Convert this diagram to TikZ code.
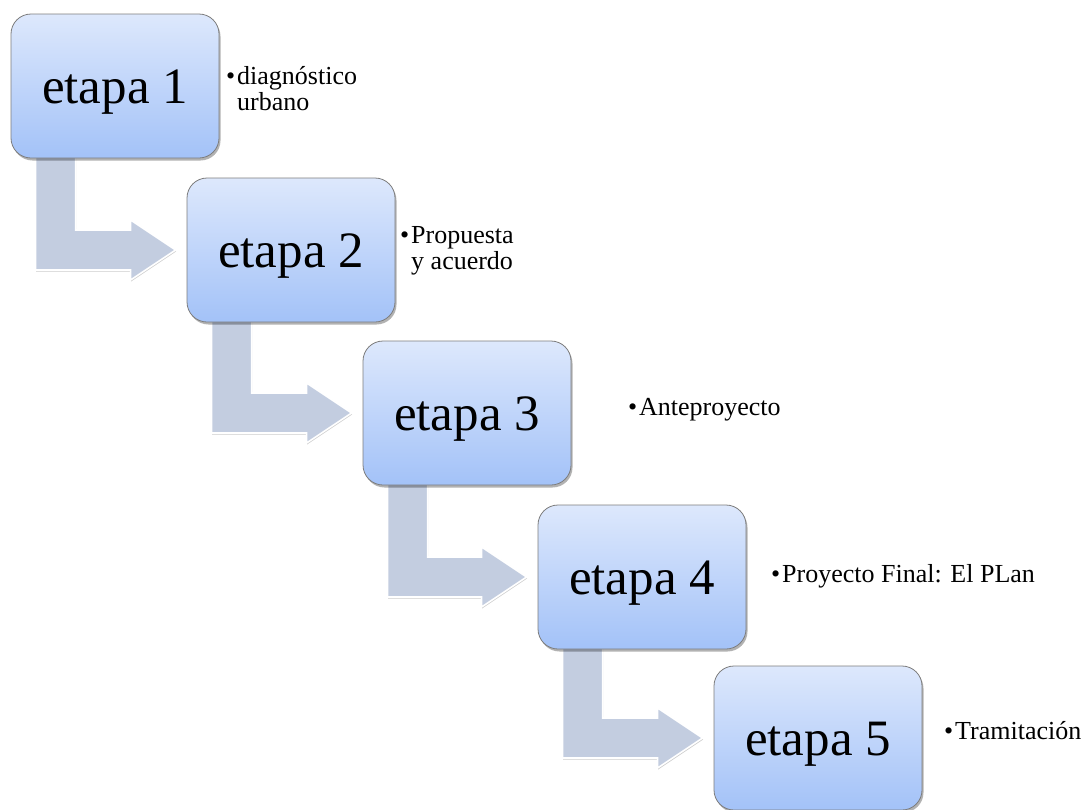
\documentclass[tikz,border=0pt]{standalone}
\usepackage{fontspec}
\setmainfont{Liberation Serif}
\newfontfamily\sideserif{Liberation Serif}
\usetikzlibrary{shadows,backgrounds,calc}
\definecolor{boxtop}{RGB}{221,232,252}
\definecolor{boxbot}{RGB}{163,194,248}
\definecolor{boxline}{RGB}{125,125,125}
\definecolor{arrowfill}{RGB}{195,205,224}
\tikzset{
  stagebox/.style={draw=boxline, line width=0.8pt, rounded corners=20pt,
    top color=boxtop, bottom color=boxbot,
    minimum width=208pt, minimum height=144pt, inner sep=0pt,
    text height=40pt, text depth=6pt,
    font=\sideserif\fontsize{51}{60}\selectfont,
    drop shadow={shadow xshift=1.5pt, shadow yshift=-2.5pt, opacity=0.3, fill=black}},
  sidetext/.style={anchor=west, align=left, inner sep=0pt,
    font=\sideserif\fontsize{26}{26}\selectfont},
  bentarrow/.style={fill=arrowfill, draw=white, line width=1.6pt, line join=miter,
    drop shadow={shadow xshift=0.5pt, shadow yshift=-1.5pt, opacity=0.2, fill=black}}
}
\newcommand{\bul}{\llap{\textbullet\hspace{2pt}}}
\begin{document}
\begin{tikzpicture}[x=1pt,y=-1pt]
\useasboundingbox (0,0) rectangle (1086,809);
\node[stagebox] (e1) at (115,86) {etapa 1};
\node[stagebox] (e2) at (291,250) {etapa 2};
\node[stagebox] (e3) at (467,413) {etapa 3};
\node[stagebox] (e4) at (642,577) {etapa 4};
\node[stagebox] (e5) at (818,738) {etapa 5};

\node[sidetext] (t1) at (237,89) {\bul diagnóstico\\urbano};
\node[sidetext] (t2) at (411,251) {\bul Propuesta\\y acuerdo};
\node[sidetext] (t3) at (639,410) {\bul Anteproyecto};
\node[sidetext] (t4) at (782,576) {\bul Proyecto Final: El PLan};
\node[sidetext] (t5) at (955,731) {\bul Tramitación};

\begin{pgfonlayer}{background}
\fill[white] (0,0) rectangle (1086,809);
\foreach \a/\b in {e1/e2,e2/e3,e3/e4,e4/e5}{
  \draw[bentarrow] let \p1=(\a.south west), \p2=(\b.west) in
    (\x1+25pt,\y1+10pt) -- (\x1+25pt,\y2-20pt) -- (\x2-56pt,\y2-20pt)
    -- (\x2-56pt,\y2-30pt) -- (\x2-11pt,\y2) -- (\x2-56pt,\y2+30pt)
    -- (\x2-56pt,\y2+20pt) -- (\x1+65pt,\y2+20pt) -- (\x1+65pt,\y1+10pt) -- cycle;
}
\end{pgfonlayer}
\end{tikzpicture}
\end{document}
